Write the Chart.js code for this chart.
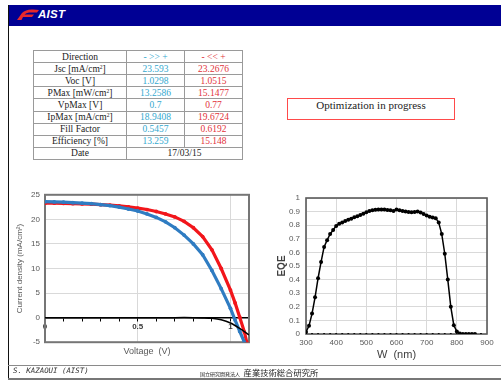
<!DOCTYPE html>
<html><head><meta charset="utf-8">
<script src="https://cdn.jsdelivr.net/npm/chart.js@4.4.1/dist/chart.umd.min.js"></script>
<style>
html,body{margin:0;padding:0;background:#fff;}
body{width:501px;height:383px;position:relative;overflow:hidden;font-family:"Liberation Sans",Arial,sans-serif;}
.abs{position:absolute;}
#header{left:8px;top:5px;width:493px;height:21px;background:#000094;}
#logo{left:17px;top:9px;}
#aist{left:38px;top:8px;color:#fff;font:italic bold 11.5px "Liberation Sans",Arial,sans-serif;letter-spacing:0.3px;}
#leftline{left:8px;top:5px;width:1px;height:375px;background:#111;}
#footline{left:8px;top:365px;width:493px;height:1px;background:#8a8a8a;}
#bottomline{left:8px;top:378px;width:493px;height:2px;background:#777;}
#author{left:13px;top:366px;font:italic 7.4px "DejaVu Sans Mono",monospace;color:#333;line-height:10px;}
#org{left:200px;top:364px;white-space:nowrap;color:#222;font-family:"Noto Sans CJK JP",sans-serif;line-height:10px;height:10px;}
#org .s{font-size:5px;line-height:10px;}
#org .b{font-size:8.3px;line-height:10px;}
table{position:absolute;left:33px;top:50px;width:209px;height:110px;border-collapse:collapse;font:9.5px "Liberation Serif","Times New Roman",serif;color:#222;table-layout:fixed;}
td{border:1px solid #9a9a9a;padding:0;text-align:center;line-height:10px;height:11px;white-space:nowrap;}
table{border:1.5px solid #8a8a8a;}
td.c{color:#35a9cf;}
td.r{color:#e2333a;}
sup{font-size:5.5px;vertical-align:top;line-height:6px;}
#opt{left:287px;top:98px;width:166px;height:20px;border:1px solid #ff4a4a;text-align:center;line-height:20px;font:11px "Liberation Serif","Times New Roman",serif;color:#222;}
canvas{position:absolute;}
</style></head>
<body>
<div id="header" class="abs"></div>
<svg id="logo" class="abs" width="22" height="12" viewBox="0 0 22 12">
  <path d="M0,11 L5,4 Q9,0 16,0.5 L22,1 L20,3.5 L12,3.5 Q9,3.8 7.5,5.5 L17,5.5 L15,8 L6,8 L4.5,11 Z" fill="#e8282b"/>
</svg>
<div id="aist" class="abs">AIST</div>
<div id="leftline" class="abs"></div>

<table id="tbl">
  <colgroup><col style="width:93px"><col style="width:58px"><col style="width:58px"></colgroup>
  <tbody id="tbody"></tbody>
</table>

<div id="opt" class="abs">Optimization in progress</div>

<canvas id="iv" width="250" height="175" style="left:10px;top:185px;width:250px;height:175px;"></canvas>
<canvas id="eqe" width="230" height="178" style="left:270px;top:185px;width:230px;height:178px;"></canvas>

<div id="footline" class="abs"></div>
<div id="author" class="abs">S. KAZAOUI (AIST)</div>
<div id="org" class="abs"><span class="s">国立研究開発法人</span> <span class="b">産業技術総合研究所</span></div>
<div id="bottomline" class="abs"></div>

<script>
// ---------- Table data ----------
const rowLabels = ['Direction','Jsc [mA/cm<sup>2</sup>]','Voc [V]','PMax [mW/cm<sup>2</sup>]','VpMax [V]','IpMax [mA/cm<sup>2</sup>]','Fill Factor','Efficiency [%]'];
const forwardValues = ['- >> +','23.593','1.0298','13.2586','0.7','18.9408','0.5457','13.259'];
const reverseValues = ['- << +','23.2676','1.0515','15.1477','0.77','19.6724','0.6192','15.148'];
const dateLabel = 'Date';
const dateValue = '17/03/15';

// ---------- J-V data ----------
const fwdVoltage = [0,0.05,0.1,0.15,0.2,0.25,0.3,0.35,0.4,0.45,0.5,0.55,0.6,0.65,0.7,0.75,0.8,0.85,0.9,0.95,1.0,1.025,1.05,1.075];
const fwdCurrent = [23.6,23.55,23.5,23.4,23.3,23.2,23.0,22.8,22.5,22.1,21.7,21.1,20.4,19.5,18.3,16.8,15.0,12.8,9.6,5.9,1.9,-0.5,-2.8,-5.0];
const revVoltage = [0,0.05,0.1,0.15,0.2,0.25,0.3,0.35,0.4,0.45,0.5,0.55,0.6,0.65,0.7,0.75,0.8,0.85,0.9,0.95,1.0,1.025,1.05,1.075,1.088];
const revCurrent = [23.3,23.3,23.25,23.2,23.15,23.1,23.0,22.9,22.75,22.55,22.3,22.0,21.6,21.1,20.5,19.6,18.3,16.5,13.8,10.0,5.6,3.0,0.1,-2.9,-5.0];
const darkVoltage = [0,0.1,0.2,0.3,0.4,0.5,0.6,0.7,0.8,0.85,0.9,0.95,1.0,1.05,1.1];
const darkCurrent = [0,0,0,0,0,0,0,0,0,-0.05,-0.15,-0.45,-1.1,-2.2,-3.5];
const ivXLabels = ['0','0.5','1'];

// ---------- EQE data ----------
const wavelength = [300,310,320,330,340,350,360,370,380,390,400,410,420,430,440,450,460,470,480,490,500,510,520,530,540,550,560,570,580,590,600,610,620,630,640,650,660,670,680,690,700,710,720,730,740,750,760,770,780,790,800,810,820,830,840,850,860];
const eqe = [0.015,0.06,0.15,0.27,0.41,0.53,0.64,0.69,0.735,0.765,0.795,0.81,0.82,0.83,0.84,0.848,0.858,0.865,0.875,0.885,0.895,0.905,0.91,0.913,0.915,0.915,0.915,0.912,0.91,0.905,0.915,0.91,0.905,0.9,0.897,0.895,0.897,0.9,0.893,0.882,0.872,0.862,0.857,0.852,0.82,0.735,0.59,0.40,0.20,0.065,0.018,0.004,0,0,0,0,0];
const baseWavelength = [300,320,340,360,380,400,420,440,460,480,500,520,540,560,580,600,620,640,660,680,700,720,740,760,780,800,820,840,860,880];
const baseValue = [0,0,0,0,0,0,0,0,0,0,0,0,0,0,0,0,0,0,0,0,0,0,0,0,0,0,0,0,0,0];

// ---------- build table ----------
const tb = document.getElementById('tbody');
rowLabels.forEach((lab,i)=>{
  const tr = document.createElement('tr');
  tr.innerHTML = '<td>'+lab+'</td><td class="c"></td><td class="r"></td>';
  tr.children[1].textContent = forwardValues[i];
  tr.children[2].textContent = reverseValues[i];
  tb.appendChild(tr);
});
const trd = document.createElement('tr');
trd.innerHTML = '<td></td><td colspan="2"></td>';
trd.children[0].textContent = dateLabel;
trd.children[1].textContent = dateValue;
tb.appendChild(trd);

// ---------- charts ----------
const SANS = '"Liberation Sans", Arial, sans-serif';
const frame = {
  id:'frame',
  beforeDatasetsDraw(chart, args, opts){
    const {ctx, chartArea:a} = chart;
    ctx.save();
    ctx.strokeStyle = opts.color; ctx.lineWidth = opts.width;
    ctx.strokeRect(a.left, a.top, a.right-a.left, a.bottom-a.top);
    ctx.restore();
  }
};
const pts = (xs, ys) => xs.map((x,i)=>({x:x, y:ys[i]}));
const near = (a,b) => Math.abs(a-b) < 1e-6;

new Chart(document.getElementById('iv'), {
  type:'scatter',
  data:{datasets:[
    {label:'- << +', data:pts(revVoltage, revCurrent), showLine:true, borderColor:'#f2161b', backgroundColor:'#f2161b', borderWidth:3.2, pointRadius:1.9, pointBorderWidth:0, order:2},
    {label:'- >> +', data:pts(fwdVoltage, fwdCurrent), showLine:true, borderColor:'#2f7cc2', backgroundColor:'#2f7cc2', borderWidth:3.2, pointRadius:1.9, pointBorderWidth:0, order:1},
    {label:'dark', data:pts(darkVoltage, darkCurrent), showLine:true, borderColor:'#000', borderWidth:1.5, pointRadius:0, order:0, tension:0.3}
  ]},
  options:{
    responsive:false, animation:false, events:[],
    layout:{padding:{left:0, top:8, right:11, bottom:1}},
    plugins:{
      legend:{display:false}, tooltip:{enabled:false},
      title:{display:true, position:'bottom', fullSize:false, text:'Voltage  (V)', color:'#595959', font:{size:9, family:SANS, weight:'normal'}, padding:{top:4, bottom:2}},
      frame:{color:'#767676', width:2}
    },
    scales:{
      x:{type:'linear', min:0, max:1.1, position:{y:0},
        ticks:{stepSize:0.1, autoSkip:false, maxRotation:0, color:'#3a3a3a', font:{size:8, weight:'bold', family:SANS}, padding:1,
          callback:(v)=> near(v,0)?ivXLabels[0]:near(v,0.5)?ivXLabels[1]:near(v,1)?ivXLabels[2]:''},
        grid:{color:(c)=> (c.tick && (near(c.tick.value,0.5)||near(c.tick.value,1))) ? '#d9d9d9' : 'rgba(0,0,0,0)', drawTicks:true, tickLength:3, tickColor:'#000', tickWidth:1},
        border:{display:true, color:'#000', width:1.5}
      },
      y:{min:-5, max:25,
        ticks:{stepSize:5, color:'#595959', font:{size:8, family:SANS}, padding:5},
        grid:{color:(c)=> (c.tick && c.tick.value===0) ? 'rgba(0,0,0,0)' : '#d9d9d9', drawTicks:false},
        border:{display:false},
        title:{display:true, text:'Current density (mA/cm²)', color:'#595959', font:{size:8, family:SANS}, padding:{top:5, bottom:0}},
        afterFit:(s)=>{ s.width = 35; }
      }
    }
  },
  plugins:[frame]
});

new Chart(document.getElementById('eqe'), {
  type:'scatter',
  data:{datasets:[
    {label:'EQE', data:pts(wavelength, eqe), showLine:true, borderColor:'#000', backgroundColor:'#000', borderWidth:1.5, pointRadius:2, pointBorderWidth:0, order:0},
    {label:'base', data:pts(baseWavelength, baseValue), showLine:false, borderColor:'#000', backgroundColor:'#000', pointRadius:1.1, pointBorderWidth:0, order:1}
  ]},
  options:{
    responsive:false, animation:false, events:[],
    layout:{padding:{left:0, top:13, right:13, bottom:0}},
    plugins:{legend:{display:false}, tooltip:{enabled:false}, frame:{color:'#5a5a5a', width:1.6}},
    scales:{
      x:{type:'linear', min:300, max:900,
        ticks:{stepSize:100, color:'#595959', font:{size:8, family:SANS}, padding:4, maxRotation:0},
        grid:{color:'#d9d9d9', drawTicks:false}, border:{display:false},
        title:{display:true, text:'W  (nm)', color:'#404040', font:{size:11, family:SANS}, padding:{top:0, bottom:1}},
        afterFit:(s)=>{ s.height = 29; }
      },
      y:{min:0, max:1,
        ticks:{stepSize:0.1, color:'#595959', font:{size:8, family:SANS}, padding:6, callback:(v)=> String(Number(v.toFixed(1)))},
        grid:{color:'#d9d9d9', drawTicks:false}, border:{display:false},
        title:{display:true, text:'EQE', color:'#404040', font:{size:10, weight:'bold', family:SANS}, padding:{top:6, bottom:0}},
        afterFit:(s)=>{ s.width = 36; }
      }
    }
  },
  plugins:[frame]
});
</script>
</body></html>
